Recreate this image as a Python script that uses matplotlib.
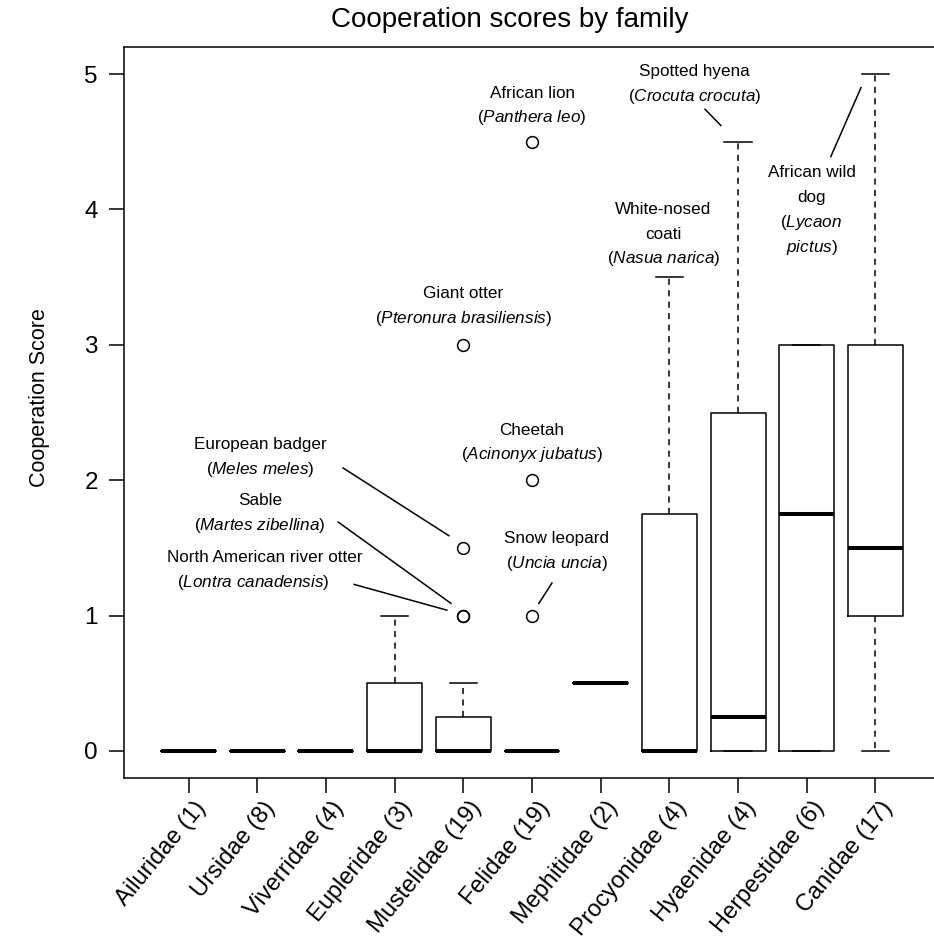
import matplotlib
matplotlib.use("Agg")
import matplotlib.pyplot as plt
import matplotlib.transforms as mtransforms

plt.rcParams['font.family'] = ['Liberation Sans', 'DejaVu Sans']
plt.rcParams['mathtext.fontset'] = 'custom'
plt.rcParams['mathtext.rm'] = 'Liberation Sans'
plt.rcParams['mathtext.it'] = 'Liberation Sans:italic'

# ---------------- data ----------------
families = ["Ailuridae", "Ursidae", "Viverridae", "Eupleridae", "Mustelidae",
            "Felidae", "Mephitidae", "Procyonidae", "Hyaenidae", "Herpestidae", "Canidae"]
counts = [1, 8, 4, 3, 19, 19, 2, 4, 4, 6, 17]
q1 = [0, 0, 0, 0, 0, 0, 0.5, 0, 0, 0, 1]
medians = [0, 0, 0, 0, 0, 0, 0.5, 0, 0.25, 1.75, 1.5]
q3 = [0, 0, 0, 0.5, 0.25, 0, 0.5, 1.75, 2.5, 3, 3]
whisker_lo = [0, 0, 0, 0, 0, 0, 0.5, 0, 0, 0, 0]
whisker_hi = [0, 0, 0, 1, 0.5, 0, 0.5, 3.5, 4.5, 3, 5]
outliers = [[], [], [], [], [1, 1, 1.5, 3], [1, 2, 4.5], [], [], [], [], []]
y_ticks = [0, 1, 2, 3, 4, 5]

# annotations: common name lines, scientific name
ann_common = ["African lion", "Spotted hyena", "White-nosed\ncoati", "African wild\ndog",
              "Giant otter", "Cheetah", "European badger", "Sable",
              "North American river otter", "Snow leopard"]
ann_sci = ["Panthera leo", "Crocuta crocuta", "Nasua narica", "Lycaon\npictus",
           "Pteronura brasiliensis", "Acinonyx jubatus", "Meles meles", "Martes zibellina",
           "Lontra canadensis", "Uncia uncia"]

# layout of annotation text (x, y of the top line centre) and pointer lines
ann_pos = [(6.0, 4.86), (8.37, 5.02), (7.91, 4.0), (10.07, 4.27),
           (5.0, 3.38), (6.0, 2.37), (2.04, 2.26), (2.04, 1.85),
           (2.11, 1.43), (6.36, 1.57)]
ann_sci_dx = [0, 0, 0, 0, 0, 0, 0, 0, -0.17, 0]
ann_lines = [None, ((8.52, 4.74), (8.75, 4.62)), None, ((10.35, 4.39), (10.79, 4.90)),
             None, None, ((3.25, 2.09), (4.79, 1.59)), ((3.18, 1.69), (4.82, 1.09)),
             ((3.41, 1.23), (4.76, 1.04)), ((6.29, 1.24), (6.10, 1.09))]

# ---------------- figure ----------------
W, H = 934, 947
fig = plt.figure(figsize=(W / 100, H / 100), dpi=100)
ax = fig.add_axes([124 / W, (H - 778) / H, (940 - 124) / W, (778 - 47) / H])

positions = list(range(1, len(families) + 1))
stats = []
for i in range(len(families)):
    stats.append(dict(med=medians[i], q1=q1[i], q3=q3[i],
                      whislo=whisker_lo[i], whishi=whisker_hi[i],
                      fliers=outliers[i], label=families[i]))

lw = 1.1
ax.bxp(stats, positions=positions, widths=0.8, capwidths=0.4, showfliers=True,
       boxprops=dict(color='black', linewidth=lw),
       medianprops=dict(color='black', linewidth=2.9, solid_capstyle='butt'),
       whiskerprops=dict(color='black', linewidth=lw, linestyle=(0, (4, 3.5))),
       capprops=dict(color='black', linewidth=lw),
       flierprops=dict(marker='o', markerfacecolor='none', markeredgecolor='black',
                       markersize=8.5, markeredgewidth=lw, linestyle='none'))

ax.set_xlim(0.06, 11.94)
ax.set_ylim(-0.2, 5.2)
ax.set_yticks(y_ticks)
ax.set_yticklabels([str(v) for v in y_ticks], fontsize=17.5)
ax.set_xticks(positions)
ax.set_xticklabels([])
ax.tick_params(axis='both', length=10.8, width=lw, color='black', pad=8)
for s in ax.spines.values():
    s.set_linewidth(lw)

trans = mtransforms.blended_transform_factory(ax.transData, ax.transAxes)
for p, fam, n in zip(positions, families, counts):
    ax.text(p + 0.2, -0.036, f"{fam} ({n})", transform=trans, rotation=50.5,
            rotation_mode='anchor', ha='right', va='center', fontsize=17, clip_on=False)

def italic(name):
    lines = name.split("\n")
    out = []
    for k, ln in enumerate(lines):
        s = r"$\mathit{" + ln.replace(" ", r"\ ") + "}$"
        if k == 0:
            s = "(" + s
        if k == len(lines) - 1:
            s = s + ")"
        out.append(s)
    return out

line_h = 0.183
for i in range(len(ann_common)):
    x0, y0 = ann_pos[i]
    rows = ann_common[i].split("\n")
    y = y0
    for r in rows:
        ax.text(x0, y, r, ha='center', va='center', fontsize=12.3)
        y -= line_h
    for r in italic(ann_sci[i]):
        ax.text(x0 + ann_sci_dx[i], y, r, ha='center', va='center', fontsize=12.3)
        y -= line_h
    if ann_lines[i] is not None:
        (xa, ya), (xb, yb) = ann_lines[i]
        ax.plot([xa, xb], [ya, yb], color='black', linewidth=lw)

fig.text(510 / W, 1 - 20 / H, "Cooperation scores by family", ha='center', va='center',
         fontsize=20)
fig.text(40 / W, 1 - 398 / H, "Cooperation Score", ha='center', va='center',
         rotation=90, fontsize=15.5)

fig.savefig("out.png", dpi=100)
